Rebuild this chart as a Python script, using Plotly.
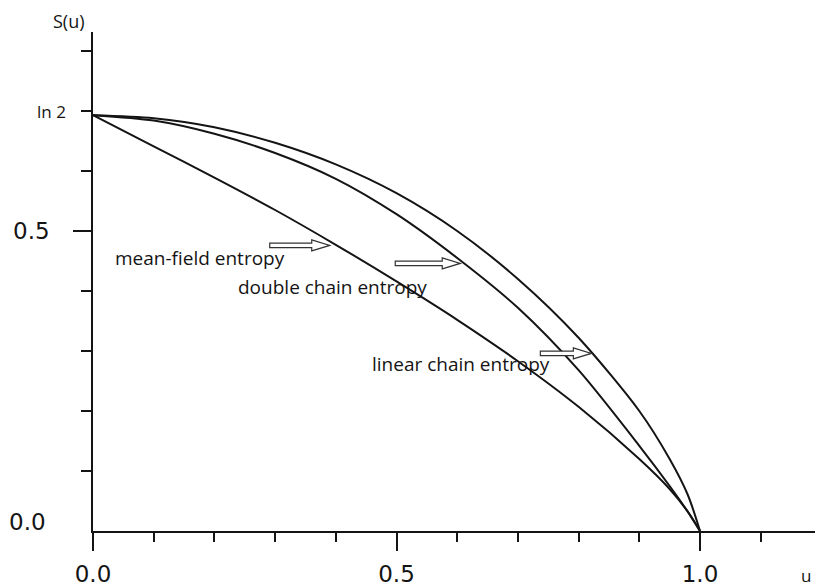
import plotly.graph_objects as go

# ---- data ----
u = [0.0, 0.1, 0.2, 0.3, 0.4, 0.5, 0.6, 0.7, 0.8, 0.9, 0.95, 0.98, 1.0]
s_mean_field = [0.693, 0.641, 0.589, 0.535, 0.477, 0.416, 0.352, 0.283, 0.207, 0.120, 0.070, 0.032, 0.0]
s_double_chain = [0.693, 0.684, 0.662, 0.630, 0.587, 0.528, 0.455, 0.372, 0.268, 0.142, 0.075, 0.032, 0.0]
s_linear_chain = [0.693, 0.688, 0.673, 0.647, 0.611, 0.563, 0.500, 0.420, 0.322, 0.200, 0.120, 0.060, 0.0]

curve_labels = ["mean-field entropy", "double chain entropy", "linear chain entropy"]
label_x = [0.176, 0.394, 0.606]
label_y = [0.455, 0.406, 0.278]
arrow_tip_x = [0.390, 0.605, 0.821]
arrow_tip_y = [0.476, 0.446, 0.296]
arrow_len_px = [60, 65, 51]

x_tick_vals = [0.0, 0.5, 1.0]
x_tick_text = ["0.0", "0.5", "1.0"]
x_minor_vals = [0.1, 0.2, 0.3, 0.4, 0.6, 0.7, 0.8, 0.9, 1.1]
y_tick_vals = [0.5]
y_minor_vals = [0.1, 0.2, 0.3, 0.4, 0.6, 0.7, 0.8]
y_label_vals = [0.0, 0.5, 0.7]
y_label_text = ["0.0", "0.5", "ln 2"]

# ---- layout geometry ----
W, H = 815, 588
ML, MR, MT, MB = 93, 0, 32, 57
PX_PER_X = 607.0
PX_PER_Y = 600.0
x_max = (W - ML - MR) / PX_PER_X
y_max = (H - MT - MB) / PX_PER_Y

INK = "#141414"
NUM_FONT = dict(family="DejaVu Sans", size=23, color=INK)

fig = go.Figure()
for ys in (s_mean_field, s_double_chain, s_linear_chain):
    fig.add_trace(go.Scatter(x=u, y=ys, mode="lines",
                             line=dict(color=INK, width=2, shape="spline", smoothing=0.8),
                             showlegend=False, hoverinfo="skip"))

# hollow arrows
def hollow_arrow(tx, ty, length):
    dx = 1.0 / PX_PER_X
    dy = 1.0 / PX_PER_Y
    head_l = 18
    shaft_h = 2.2
    head_h = 5.5
    x0 = tx - length * dx
    xb = tx - head_l * dx
    pts = [
        (x0, ty + shaft_h * dy), (xb, ty + shaft_h * dy), (xb, ty + head_h * dy),
        (tx, ty), (xb, ty - head_h * dy), (xb, ty - shaft_h * dy), (x0, ty - shaft_h * dy)
    ]
    return "M " + " L ".join(f"{a:.5f},{b:.5f}" for a, b in pts) + " Z"

for tx, ty, ln in zip(arrow_tip_x, arrow_tip_y, arrow_len_px):
    fig.add_shape(type="path", path=hollow_arrow(tx, ty, ln), xref="x", yref="y",
                  line=dict(color="#333333", width=1.2), fillcolor="white", layer="above")

for txt, lx, ly in zip(curve_labels, label_x, label_y):
    fig.add_annotation(x=lx, y=ly, text=txt, showarrow=False, xanchor="center", yanchor="middle",
                       font=dict(family="Open Sans", size=19, color=INK))

# y labels
y_shifts = {"0.0": (-45, 9), "0.5": (-41, 0), "ln 2": (-25, 0)}
for v, t in zip(y_label_vals, y_label_text):
    xs, ys_ = y_shifts[t]
    f = dict(family="Open Sans", size=17, color=INK) if t == "ln 2" else NUM_FONT
    fig.add_annotation(x=0, y=v, xref="x", yref="y", text=t, showarrow=False,
                       xanchor="right", yanchor="middle", xshift=xs, yshift=ys_, font=f)

# axis titles
fig.add_annotation(x=0, y=1, xref="paper", yref="paper", text="S(u)", showarrow=False,
                   xanchor="center", yanchor="middle", xshift=-24, yshift=11,
                   font=dict(family="Open Sans", size=18, color=INK))
fig.add_annotation(x=1, y=0, xref="paper", yref="paper", text="u", showarrow=False,
                   xanchor="right", yanchor="middle", xshift=-2, yshift=-44,
                   font=dict(family="Open Sans", size=17, color=INK))

fig.update_layout(
    width=W, height=H,
    margin=dict(l=ML, r=MR, t=MT, b=MB, pad=0),
    paper_bgcolor="white", plot_bgcolor="white",
    showlegend=False,
    xaxis=dict(range=[0, x_max], showgrid=False, zeroline=False,
               showline=True, linecolor=INK, linewidth=2,
               tickmode="array", tickvals=x_tick_vals, ticktext=x_tick_text,
               ticks="outside", ticklen=18, tickwidth=2, tickcolor=INK,
               ticklabelstandoff=3, tickfont=NUM_FONT,
               minor=dict(tickmode="array", tickvals=x_minor_vals, ticks="outside",
                          ticklen=9, tickwidth=2, tickcolor=INK, showgrid=False),
               fixedrange=True),
    yaxis=dict(range=[0, y_max], showgrid=False, zeroline=False,
               showline=True, linecolor=INK, linewidth=2,
               tickmode="array", tickvals=y_tick_vals, showticklabels=False,
               ticks="outside", ticklen=18, tickwidth=2, tickcolor=INK,
               minor=dict(tickmode="array", tickvals=y_minor_vals, ticks="outside",
                          ticklen=10, tickwidth=2, tickcolor=INK, showgrid=False),
               fixedrange=True),
)

fig.write_html("out.html", config={"displayModeBar": False},
               post_script="document.body.style.margin='0';document.body.style.overflow='hidden';")
